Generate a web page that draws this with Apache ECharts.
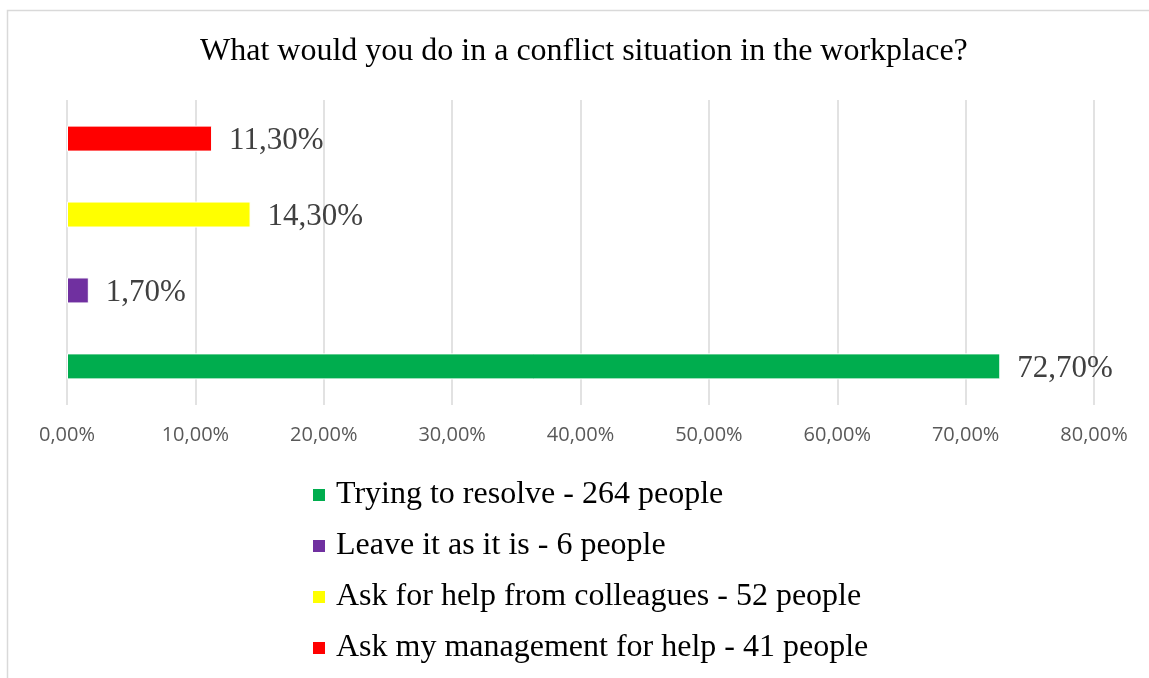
<!DOCTYPE html>
<html>
<head>
<meta charset="utf-8">
<script src="https://cdn.jsdelivr.net/npm/echarts@6/dist/echarts.min.js"></script>
<style>
  html, body { margin: 0; padding: 0; background: #fff; }
  #chart { width: 1149px; height: 678px; }
</style>
</head>
<body>
<div id="chart"></div>
<script>
// Survey answers (percent of respondents)
const seriesNames = [
  'Trying to resolve - 264 people',
  'Leave it as it is - 6 people',
  'Ask for help from colleagues - 52 people',
  'Ask my management for help - 41 people'
];
const seriesValues = [72.7, 1.7, 14.3, 11.3];
const seriesColors = ['#00ad4e', '#7030a0', '#ffff00', '#ff0000'];
const categories = [''];
const titleText = 'What would you do in a conflict situation in the workplace?';

const pct = v => v.toFixed(2).replace('.', ',') + '%';

const chart = echarts.init(document.getElementById('chart'));

// Horizontal groups stack the first series on top, so feed them in reverse
// to keep "Trying to resolve" at the bottom; the legend keeps the original order.
const series = seriesNames.map((name, i) => ({
  name: name,
  type: 'bar',
  data: [seriesValues[i]],
  barWidth: 26,
  barGap: '192%',
  itemStyle: { color: seriesColors[i], borderColor: '#fff', borderWidth: 1 },
  label: {
    show: true,
    position: 'right',
    distance: 17,
    offset: [0, 2],
    formatter: p => pct(p.value),
    fontFamily: 'Liberation Serif',
    fontSize: 31,
    color: '#404040'
  }
})).reverse();

chart.setOption({
  animation: false,
  backgroundColor: '#fff',
  title: {
    text: titleText,
    left: 195,
    top: 31,
    textStyle: { fontFamily: 'Liberation Serif', fontSize: 32, fontWeight: 'normal', color: '#000' }
  },
  graphic: [{
    type: 'polyline',
    shape: { points: [[7.5, 678], [7.5, 10.5], [1149, 10.5]] },
    style: { stroke: '#d9d9d9', lineWidth: 1.5, fill: null }
  }],
  legend: {
    orient: 'vertical',
    left: 308,
    top: 472,
    itemWidth: 12,
    itemHeight: 12,
    itemGap: 15,
    icon: 'rect',
    data: seriesNames,
    itemStyle: { borderWidth: 0 },
    textStyle: {
      fontFamily: 'Liberation Serif', fontSize: 32, color: '#000', lineHeight: 36,
      padding: [0, 0, 0, 6]
    }
  },
  grid: { left: 67, right: 55, top: 100, bottom: 273, containLabel: false },
  xAxis: {
    type: 'value',
    min: 0,
    max: 80,
    interval: 10,
    axisLine: { show: false },
    axisTick: { show: false },
    splitLine: { show: true, lineStyle: { color: '#d9d9d9', width: 1.5 } },
    axisLabel: {
      formatter: v => pct(v),
      fontFamily: 'Open Sans',
      fontSize: 20,
      color: '#595959',
      margin: 20
    }
  },
  yAxis: {
    type: 'category',
    data: categories,
    axisLine: { show: false },
    axisTick: { show: false },
    axisLabel: { show: false }
  },
  series: series
});
</script>
</body>
</html>
